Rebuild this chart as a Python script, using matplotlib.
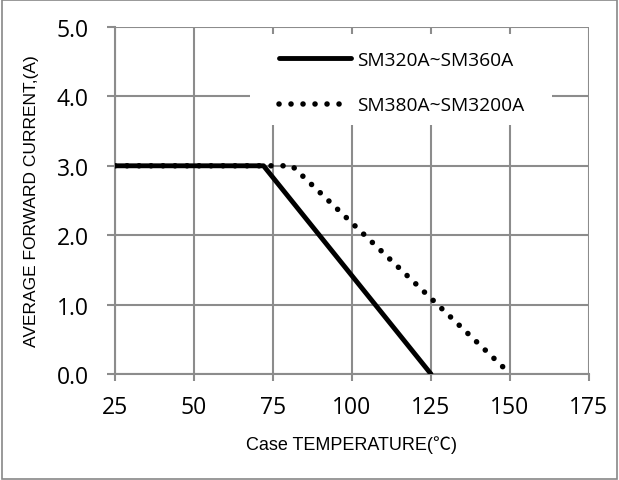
import matplotlib
matplotlib.use("Agg")
from matplotlib import pyplot as plt
from matplotlib.patches import Rectangle

# data
temp_a = [25, 72, 125]
curr_a = [3.0, 3.0, 0.0]
temp_b = [25, 81, 148.5]
curr_b = [3.0, 3.0, 0.07]
label_a = "SM320A~SM360A"
label_b = "SM380A~SM3200A"
xticks = [25, 50, 75, 100, 125, 150, 175]
yticks = [0.0, 1.0, 2.0, 3.0, 4.0, 5.0]

grid_c = "#8c8c8c"
tick_font = "Open Sans"

fig = plt.figure(figsize=(6.19, 4.81), dpi=100)
ax = fig.add_axes([0.1858, 0.2204, 0.7657, 0.7214])

ax.plot(temp_b, curr_b, color="black", lw=4,
        linestyle=(0, (0.01, 2.15)), dash_capstyle="round", label=label_b, zorder=3)
ax.plot(temp_a, curr_a, color="black", lw=3.5, solid_capstyle="round",
        label=label_a, zorder=4)

ax.set_xlim(25, 175)
ax.set_ylim(0, 5)
ax.set_xticks(xticks)
ax.set_yticks(yticks)
ax.set_xticklabels([str(t) for t in xticks], fontfamily=tick_font, fontsize=16.5)
ax.set_yticklabels(["%.1f" % t for t in yticks], fontfamily=tick_font, fontsize=16.5)
ax.grid(True, color=grid_c, lw=1.5)
ax.set_axisbelow(True)
for s in ["top", "right"]:
    ax.spines[s].set_visible(False)
for s in ["left", "bottom"]:
    ax.spines[s].set_color(grid_c)
    ax.spines[s].set_linewidth(1.5)
ax.tick_params(axis="x", color=grid_c, width=1.5, length=5, pad=10)
ax.tick_params(axis="y", color=grid_c, width=1.5, length=6, pad=13)

ax.set_xlabel("Case TEMPERATURE(℃)", fontfamily=["Liberation Sans", "Noto Sans CJK SC"],
              fontsize=13, va="top")
ax.xaxis.set_label_coords(0.5, -0.175)
ax.set_ylabel("AVERAGE FORWARD CURRENT,(A)", fontfamily="Liberation Sans",
              fontsize=12.5)
ax.yaxis.set_label_coords(-0.16, 0.5)

# white box behind the legend, hiding the grid
ax.add_patch(Rectangle((0.2848, 0.7176), 0.637, 0.2622, transform=ax.transAxes,
                       facecolor="white", edgecolor="none", zorder=1))

h, l = ax.get_legend_handles_labels()
leg = ax.legend(h[::-1], l[::-1], loc="center left", bbox_to_anchor=(0.346, 0.84),
                frameon=False, prop={"family": tick_font, "size": 13.8},
                handlelength=3.75, handletextpad=0.31, labelspacing=1.45, borderpad=0,
                borderaxespad=0)
leg.set_zorder(5)

fig.patches.append(Rectangle((0.003, 0.003), 0.994, 0.994, transform=fig.transFigure,
                             fill=False, edgecolor="#888888", lw=1.2))

fig.savefig("out.png", dpi=100)
